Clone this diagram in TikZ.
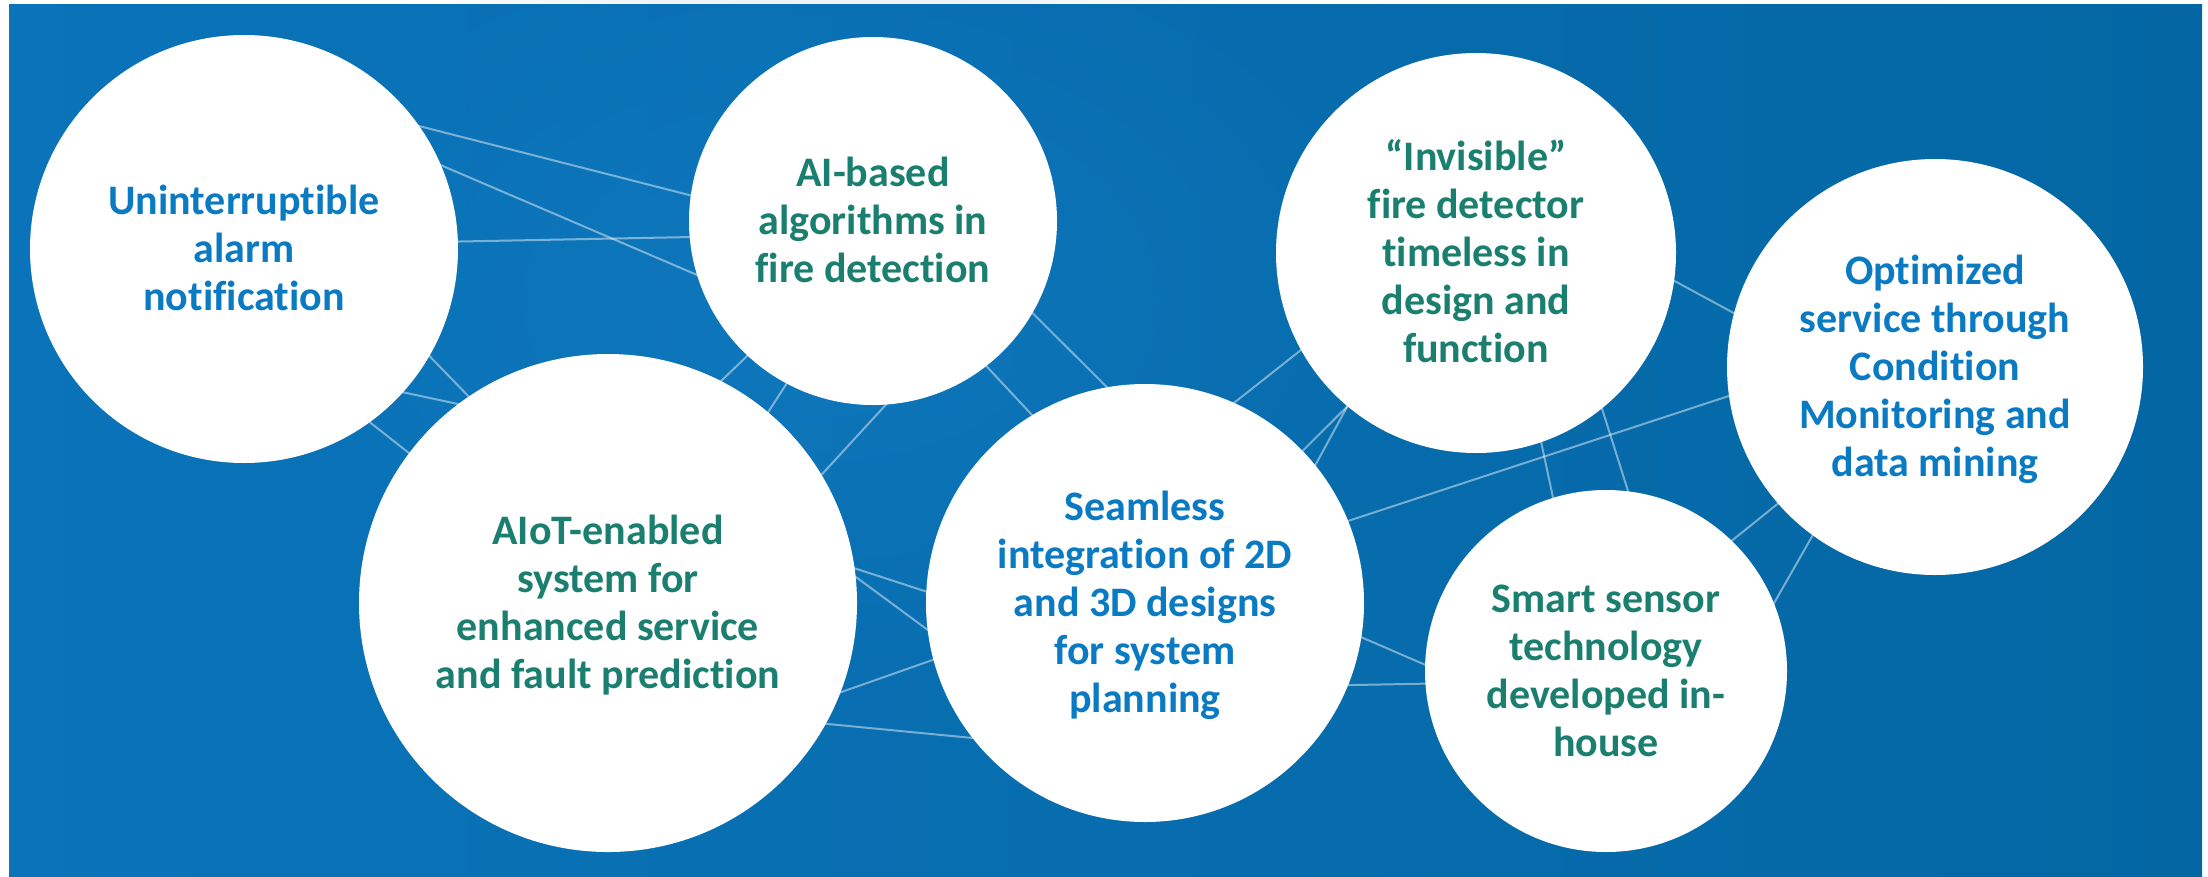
\documentclass[tikz,border=0pt]{standalone}
\usepackage{fontspec}
\newfontfamily\lblfont{Carlito}[Ligatures={NoCommon}]
\usetikzlibrary{fadings}
\definecolor{bgL}{HTML}{0A73B9}
\definecolor{bgR}{HTML}{0467A4}
\definecolor{glow}{HTML}{1C86CE}
\definecolor{txtblue}{HTML}{0A7AC2}
\definecolor{txtgreen}{HTML}{1B7F70}
\tikzfading[name=softglow, inner color=transparent!0, outer color=transparent!100]
\pgfdeclarelayer{bg}
\pgfdeclarelayer{links}
\pgfsetlayers{bg,links,main}
\begin{document}
\begin{tikzpicture}[x=1pt,y=-1pt,
  bubble/.style={circle, fill=white, inner sep=0pt, text height=27pt,
    font=\lblfont\bfseries\fontsize{42}{48}\selectfont},
  bluetxt/.style={text=txtblue},
  greentxt/.style={text=txtgreen},
  link/.style={draw=white, draw opacity=0.45, line width=2pt,
    shorten <=-6pt, shorten >=-6pt}]
\useasboundingbox (0,0) rectangle (2208,876);

\node[bubble, bluetxt, minimum size=428pt, text depth=96pt] (c1) at (244,249)
  {\begin{tabular}[t]{@{}c@{}}Uninterruptible\\alarm\\notification\end{tabular}};
\node[bubble, greentxt, minimum size=368pt, text depth=96pt] (c2) at (873,221)
  {\begin{tabular}[t]{@{}c@{}}AI-based\\algorithms in\\fire detection\end{tabular}};
\node[bubble, greentxt, minimum size=498pt, text depth=144pt] (c3) at (608,603)
  {\begin{tabular}[t]{@{}c@{}}AIoT-enabled\\system for\\enhanced service\\and fault prediction\end{tabular}};
\node[bubble, bluetxt, minimum size=438pt, text depth=192pt] (c4) at (1145,603)
  {\begin{tabular}[t]{@{}c@{}}Seamless\\integration of 2D\\and 3D designs\\for system\\planning\end{tabular}};
\node[bubble, greentxt, minimum size=400pt, text depth=192pt] (c5) at (1476,253)
  {\begin{tabular}[t]{@{}c@{}}“Invisible”\\fire detector\\timeless in\\design and\\function\end{tabular}};
\node[bubble, bluetxt, minimum size=416pt, text depth=192pt] (c6) at (1935,367)
  {\begin{tabular}[t]{@{}c@{}}Optimized\\service through\\Condition\\Monitoring and\\data mining\end{tabular}};
\node[bubble, greentxt, minimum size=362pt, text depth=144pt] (c7) at (1606,671)
  {\begin{tabular}[t]{@{}c@{}}Smart sensor\\technology\\developed in-\\house\end{tabular}};

\begin{pgfonlayer}{bg}
  \fill[white] (0,0) rectangle (2208,876);
  \shade[left color=bgL, right color=bgR] (9,4) rectangle (2202,876);
  \fill[glow, path fading=softglow, opacity=0.35] (820,300) ellipse [x radius=620pt, y radius=400pt];
\end{pgfonlayer}

\begin{pgfonlayer}{links}
  \draw[link] (c1.35) -- (c2.172);
  \draw[link] (c1.23) -- (c2.197);
  \draw[link] (c1.2) -- (c2.185);
  \draw[link] (c1.330) -- (c3.124);
  \draw[link] (c1.318) -- (c3.127);
  \draw[link] (c1.306) -- (c3.143);
  \draw[link] (c2.227) -- (c3.63);
  \draw[link] (c2.242) -- (c3.50);
  \draw[link] (c2.274) -- (c3.31);
  \draw[link] (c2.308) -- (c4.121);
  \draw[link] (c2.330) -- (c4.100);
  \draw[link] (c5.209) -- (c4.66);
  \draw[link] (c5.230) -- (c4.44);
  \draw[link] (c5.230) -- (c4.39);
  \draw[link] (c4.22) -- (c6.188);
  \draw[link] (c5.352) -- (c6.165);
  \draw[link] (c5.289) -- (c7.107);
  \draw[link] (c5.309) -- (c7.83);
  \draw[link] (c6.221) -- (c7.46);
  \draw[link] (c6.234) -- (c7.22);
  \draw[link] (c4.351) -- (c7.178);
  \draw[link] (c4.338) -- (c7.184);
  \draw[link] (c3.8) -- (c4.177);
  \draw[link] (c3.6) -- (c4.187);
  \draw[link] (c3.339) -- (c4.195);
  \draw[link] (c3.331) -- (c4.218);
\end{pgfonlayer}
\end{tikzpicture}
\end{document}
